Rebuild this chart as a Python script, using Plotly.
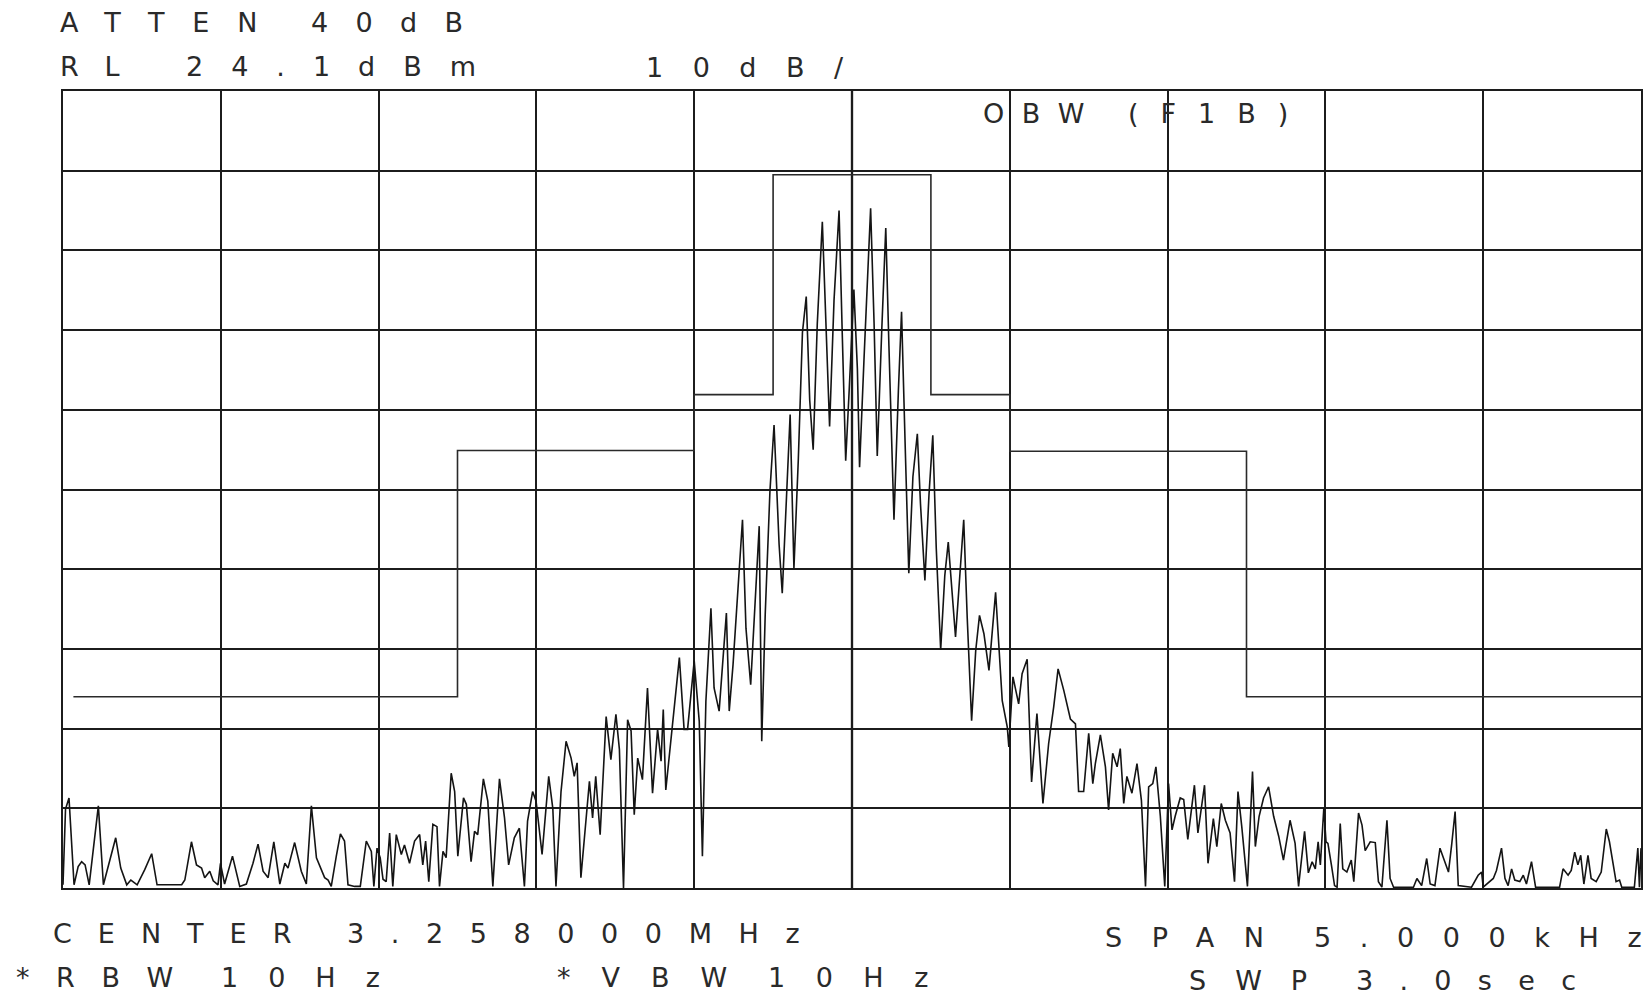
import plotly.graph_objects as go

# ---------------- data ----------------
# measured trace: frequency offset from centre (Hz) and level (dBm)
trace_freq_hz = [
    -2500, -2492, -2481, -2465, -2452, -2441, -2430, -2417, -2388, -2372,
    -2333, -2317, -2298, -2285, -2265, -2241, -2219, -2202, -2124, -2114,
    -2093, -2077, -2061, -2051, -2035, -2024, -2009, -2001, -1988, -1963,
    -1940, -1919, -1898, -1882, -1866, -1850, -1832, -1813, -1797, -1787,
    -1766, -1745, -1729, -1713, -1697, -1684, -1671, -1660, -1650, -1634,
    -1621, -1608, -1597, -1576, -1558, -1539, -1523, -1515, -1505, -1495,
    -1486, -1476, -1465, -1455, -1444, -1428, -1418, -1402, -1386, -1370,
    -1360, -1351, -1341, -1328, -1315, -1307, -1296, -1286, -1270, -1259,
    -1249, -1231, -1222, -1207, -1196, -1186, -1168, -1154, -1138, -1117,
    -1101, -1088, -1070, -1054, -1038, -1028, -1012, -1001, -982, -961,
    -948, -938, -922, -906, -890, -880, -871, -859, -832, -822,
    -812, -798, -779, -764, -748, -737, -724, -711, -700, -690,
    -679, -664, -648, -632, -616, -605, -598, -590, -574, -547,
    -532, -521, -500, -484, -474, -463, -447, -437, -421, -398,
    -389, -377, -347, -336, -321, -294, -286, -275, -260, -247,
    -231, -221, -196, -184, -170, -157, -145, -134, -123, -110,
    -94, -83, -71, -57, -41, -31, -20, -9, 6, 17,
    24, 38, 59, 70, 80, 94, 107, 117, 133, 147,
    157, 168, 180, 193, 207, 217, 231, 244, 256, 267,
    281, 294, 305, 328, 344, 354, 365, 379, 392, 404,
    418, 434, 455, 476, 492, 497, 510, 528, 539, 555,
    569, 586, 605, 623, 639, 653, 671, 692, 708, 718,
    734, 750, 763, 771, 787, 803, 813, 826, 840, 850,
    861, 871, 887, 903, 917, 930, 940, 953, 963, 977,
    991, 1003, 1014, 1024, 1040, 1051, 1064, 1085, 1096, 1117,
    1128, 1145, 1156, 1170, 1183, 1198, 1212, 1223, 1235, 1253,
    1269, 1278, 1290, 1304, 1320, 1336, 1352, 1367, 1388, 1404,
    1415, 1434, 1446, 1458, 1468, 1477, 1484, 1495, 1502, 1508,
    1519, 1529, 1537, 1547, 1555, 1568, 1582, 1590, 1605, 1616,
    1626, 1642, 1658, 1668, 1679, 1695, 1705, 1716, 1779, 1790,
    1805, 1821, 1832, 1847, 1863, 1877, 1890, 1900, 1911, 1921,
    1963, 1984, 1995, 2000, 2032, 2042, 2058, 2069, 2079, 2090,
    2100, 2116, 2127, 2137, 2153, 2166, 2242, 2253, 2269, 2279,
    2290, 2300, 2309, 2319, 2332, 2342, 2358, 2374, 2390, 2400,
    2411, 2421, 2432, 2439, 2479, 2490, 2495, 2500,
]
trace_level_dbm = [
    -75.5, -66.0, -64.6, -75.5, -73.2, -72.6, -73.0, -75.5, -65.6, -75.5,
    -69.6, -73.4, -75.5, -74.9, -75.5, -73.6, -71.6, -75.5, -75.5, -74.9,
    -70.1, -73.0, -73.4, -74.6, -73.8, -75.0, -75.5, -72.8, -75.4, -71.9,
    -75.7, -75.4, -72.8, -70.4, -73.8, -74.6, -70.1, -75.4, -72.8, -73.4,
    -70.2, -73.8, -75.4, -65.6, -72.1, -73.4, -74.6, -74.9, -75.7, -71.9,
    -69.1, -70.0, -75.5, -75.7, -75.7, -70.0, -71.3, -75.7, -70.9, -72.1,
    -74.8, -75.1, -69.0, -75.7, -69.2, -71.7, -70.5, -72.8, -70.0, -69.2,
    -73.0, -70.0, -75.1, -67.9, -68.2, -75.7, -71.3, -72.1, -61.5, -63.8,
    -71.9, -64.6, -65.4, -72.6, -68.8, -69.2, -62.2, -65.0, -75.7, -62.2,
    -67.1, -73.0, -69.6, -68.4, -75.7, -67.5, -63.8, -65.0, -71.7, -61.9,
    -65.9, -75.7, -63.8, -57.5, -59.6, -61.9, -60.2, -74.6, -62.5, -67.1,
    -61.9, -69.2, -54.4, -59.8, -54.1, -58.5, -75.9, -54.8, -56.2, -66.7,
    -59.6, -62.3, -50.8, -64.0, -56.0, -60.0, -53.5, -63.6, -57.1, -47.0,
    -56.0, -56.0, -47.4, -55.0, -71.9, -52.5, -40.8, -50.8, -53.7, -41.4,
    -53.7, -47.9, -29.7, -43.3, -50.4, -30.5, -57.5, -41.6, -26.1, -17.8,
    -32.8, -38.9, -16.5, -35.8, -22.0, -6.2, -1.7, -14.7, -20.9, -5.1,
    7.7, -5.1, -18.0, -2.2, 9.1, -6.2, -22.3, -13.5, -0.8, -10.7,
    -23.1, -9.6, 9.4, -5.1, -21.7, -6.2, 6.9, -7.9, -29.7, -13.5,
    -3.6, -19.7, -36.4, -24.3, -18.9, -27.7, -37.3, -26.5, -19.1, -33.3,
    -46.0, -36.7, -32.5, -44.4, -35.7, -29.7, -41.9, -54.9, -46.1, -41.7,
    -44.0, -48.6, -38.8, -52.4, -55.7, -58.2, -49.4, -52.8, -49.0, -47.2,
    -62.6, -54.0, -65.3, -57.8, -53.2, -48.4, -51.1, -54.7, -55.3, -63.8,
    -63.8, -56.5, -62.8, -60.3, -56.7, -60.7, -66.1, -59.0, -60.7, -58.4,
    -65.3, -61.9, -64.0, -60.3, -64.9, -75.7, -63.2, -62.8, -60.7, -66.9,
    -75.7, -62.8, -68.6, -66.9, -64.6, -64.8, -69.8, -63.0, -69.0, -63.0,
    -72.8, -67.2, -70.7, -65.3, -67.4, -69.0, -75.1, -63.8, -68.2, -75.7,
    -61.3, -70.7, -66.9, -64.6, -63.2, -66.9, -69.4, -72.4, -67.4, -70.3,
    -75.7, -68.8, -74.0, -72.6, -73.5, -70.1, -73.0, -65.9, -70.1, -70.3,
    -73.0, -75.6, -75.8, -67.8, -73.5, -73.9, -72.4, -75.1, -66.5, -68.0,
    -71.2, -70.1, -70.2, -75.1, -75.8, -67.4, -74.7, -75.8, -75.8, -74.7,
    -75.6, -72.2, -75.4, -75.6, -70.9, -72.6, -73.9, -70.5, -66.3, -75.6,
    -75.8, -74.3, -73.9, -75.8, -74.7, -73.7, -70.9, -74.7, -75.6, -73.5,
    -74.9, -75.1, -74.3, -75.4, -72.6, -75.8, -75.8, -73.5, -74.3, -73.7,
    -71.4, -73.0, -71.8, -75.4, -71.8, -74.7, -75.1, -73.9, -68.5, -70.1,
    -73.0, -75.1, -74.9, -75.8, -75.8, -70.9, -75.8, -70.9,
]
assert len(trace_freq_hz) == len(trace_level_dbm)

# OBW limit mask (F1B)
mask_freq_hz = [-2467, -1250, -1250, -500, -500, -250, -250, 250, 250, 500, 500, 1250, 1250, 2500]
mask_level_dbm = [-51.9, -51.9, -21.0, -21.0, -14.0, -14.0, 13.6, 13.6, -14.0, -14.0, -21.1, -21.1, -51.9, -51.9]

ref_level_dbm = 24.1
db_per_div = 10
n_div = 10
span_hz = 5000
freq_div_hz = 500

# instrument annotation words
header_words = ["ATTEN", "40dB", "RL", "24.1dBm", "10dB/"]
mask_words = ["OBW", "(F1B)"]
footer_words = ["CENTER", "3.258000MHz", "SPAN", "5.000kHz",
                "*RBW", "10Hz", "*VBW", "10Hz", "SWP", "3.0sec"]

# ---------------- figure ----------------
W, H = 1651, 999
LEFT, RIGHT, TOP, BOTTOM = 63, 1643, 91, 888   # graticule edges on the page

def px(xp):
    return (xp - LEFT) / (RIGHT - LEFT)

def py(yp):
    return (BOTTOM - yp) / (BOTTOM - TOP)

y_bottom = ref_level_dbm - db_per_div * n_div
ink = "#1c1c1c"

fig = go.Figure()
fig.add_trace(go.Scatter(
    x=mask_freq_hz, y=mask_level_dbm, mode="lines",
    line=dict(color="#2a2a2a", width=1.6), hoverinfo="skip", showlegend=False))
fig.add_trace(go.Scatter(
    x=trace_freq_hz, y=trace_level_dbm, mode="lines",
    line=dict(color="#141414", width=1.6), showlegend=False))

fig.add_shape(type="line", xref="x", yref="paper", x0=0, x1=0, y0=0, y1=1,
              line=dict(color="#3a3a3a", width=2.4), layer="below")

FONT = dict(family="DejaVu Sans, Liberation Sans, sans-serif", size=27, color="#2a2a2a")

def word(text, xp, yp, spacing):
    # spaced plotter-style lettering; the last glyph carries no trailing spacing
    body = f'<span style="letter-spacing:{spacing}px">{text[:-1]}</span>{text[-1]}'
    return dict(text=body, xref="paper", yref="paper", x=px(xp), y=py(yp),
                xanchor="left", yanchor="middle", showarrow=False, font=FONT)

annotations = [
    word(header_words[0], 58, 22, 27.8),
    word(header_words[1], 309, 22, 27.3),
    word(header_words[2], 58, 66, 25.7),
    word(header_words[3], 184, 66, 28.0),
    word(header_words[4], 645, 68, 29.5),
    word(mask_words[0], 982, 114, 17.5),
    word(mask_words[1], 1127, 114, 22.0),
    word(footer_words[0], 51, 934, 26.0),
    word(footer_words[1], 345, 934, 26.6),
    word(footer_words[2], 1104, 937, 29.5),
    word(footer_words[3], 1314, 937, 28.6),
    word(footer_words[4], 14, 978, 26.6),
    word(footer_words[5], 219, 978, 30.0),
    word(footer_words[6], 556, 978, 31.0),
    word(footer_words[7], 767, 978, 30.5),
    word(footer_words[8], 1188, 980, 29.0),
    word(footer_words[9], 1356, 980, 26.3),
]

axis_common = dict(showgrid=True, gridcolor=ink, gridwidth=1.5, showticklabels=False,
                   ticks="", zeroline=False, showline=True, linecolor=ink,
                   linewidth=1.8, mirror=True, fixedrange=True)

fig.update_layout(
    width=W, height=H, autosize=False,
    margin=dict(l=LEFT, r=W - RIGHT, t=TOP, b=H - BOTTOM),
    paper_bgcolor="white", plot_bgcolor="white",
    xaxis=dict(range=[-span_hz / 2, span_hz / 2], tick0=-span_hz / 2, dtick=freq_div_hz, **axis_common),
    yaxis=dict(range=[y_bottom, ref_level_dbm], tick0=y_bottom, dtick=db_per_div, **axis_common),
    annotations=annotations,
    showlegend=False,
)

# let the figure fill the window exactly (no default page margin)
fig.write_html(
    "out.html",
    config={"displayModeBar": False, "displaylogo": False},
    post_script="document.body.style.margin='0px';"
                "document.documentElement.style.overflow='hidden';",
)
